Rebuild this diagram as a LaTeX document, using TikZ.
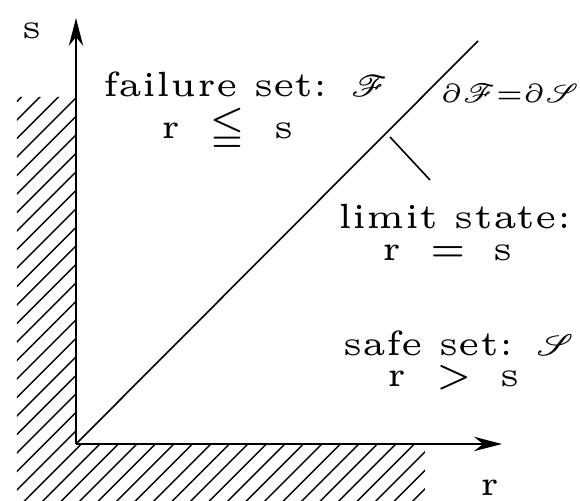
\documentclass[tikz,border=0pt]{standalone}
\usepackage{amssymb}
\usepackage{mathrsfs}
\usepackage{graphicx}
\usetikzlibrary{arrows.meta}

\newcommand{\relgap}{\hspace{0.8em}}
\newcommand{\scrset}[1]{\scalebox{0.85}{$\mathscr{#1}$}}
\tikzset{
  lbl/.style={font=\fontsize{5}{6}\selectfont, scale=1.75, inner sep=0pt},
  axis/.style={line width=0.6pt, -{Stealth[length=7pt,width=3.6pt]}},
  hatch/.style={line width=0.35pt},
}

\begin{document}
\begin{tikzpicture}[x=2.5pt, y=2.5pt]
\useasboundingbox (-7.6,-5.7) rectangle (50.4,44.4);
% hatched region (r < 0 or s < 0)
\begin{scope}
  \clip (-5.9,-5.7) -- (-5.9,34.7) -- (0,34.7) -- (0,0) -- (34.9,0) -- (34.9,-5.7) -- cycle;
  \foreach \k in {-48,-46.15,...,40}
    \draw[hatch] (\k,-6) -- (\k+42,36);
\end{scope}

% axes
\coordinate (O) at (0,0);
\coordinate (stip) at (0,42.6);
\coordinate (rtip) at (42.6,0);
\draw[axis] (O) -- (stip);
\draw[axis] (O) -- (rtip);
\node[lbl] (slab) at (-4.4,41.3) {s};
\node[lbl] (rlab) at (41.4,-4.4) {r};

% limit state line
\coordinate (lim) at (40.2,40.3);
\draw[line width=0.4pt] (O) -- (lim);
\node[lbl, scale=0.75] (bound) at (43.4,35.1) {$\partial\mathscr{F}{=}\partial\mathscr{S}$};
\coordinate (lsA) at (31.4,30.7);
\coordinate (lsB) at (35.4,26.4);
\draw[line width=0.4pt] (lsA) -- (lsB);

% regions
\node[lbl] (fail) at (17.0,36.0) {failure set: \scrset{F}};
\node[lbl] (failrel) at (15.2,31.4) {r\relgap$\leqq$\relgap s};
\node[lbl] (limit) at (37.9,22.7) {limit state:};
\node[lbl] (limitrel) at (37.2,19.1) {r\relgap$=$\relgap s};
\node[lbl] (safe) at (38.3,10.1) {safe set: \scrset{S}};
\node[lbl] (saferel) at (37.8,6.6) {r\relgap$>$\relgap s};
\end{tikzpicture}
\end{document}
